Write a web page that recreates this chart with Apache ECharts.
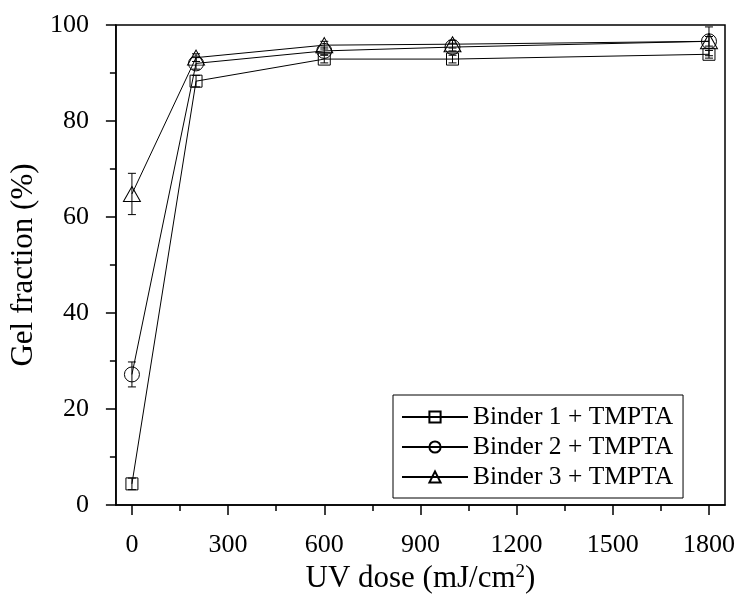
<!DOCTYPE html>
<html>
<head>
<meta charset="utf-8">
<script src="https://cdn.jsdelivr.net/npm/echarts@6/dist/echarts.min.js"></script>
<style>html,body{margin:0;padding:0;background:#fff}#c{width:746px;height:599px}</style>
</head>
<body>
<div id="c"></div>
<script>
const doses = [0, 200, 600, 1000, 1800];
const binder1 = [4.4, 88.3, 92.9, 92.9, 93.9];
const binder1Err = [1.2, 1.2, 0.8, 0.8, 0.8];
const binder2 = [27.2, 92.0, 94.6, 95.4, 96.6];
const binder2Err = [2.6, 1.2, 0.8, 0.8, 1.0];
const binder3 = [64.8, 93.2, 95.8, 96.0, 96.6];
const binder3Err = [4.3, 0.8, 0.8, 0.8, 3.0];
const seriesNames = ['Binder 1 + TMPTA', 'Binder 2 + TMPTA', 'Binder 3 + TMPTA'];
const xTicks = [0, 300, 600, 900, 1200, 1500, 1800];
const xMinorTicks = [150, 450, 750, 1050, 1350, 1650];

const FONT = 'Liberation Serif';
const chart = echarts.init(document.getElementById('c'), null, {renderer: 'canvas'});

function errData(vals, errs) {
  return doses.map((d, i) => [d, vals[i] - errs[i], vals[i] + errs[i]]);
}
function errSeries(vals, errs) {
  return {
    type: 'custom',
    xAxisIndex: 0, yAxisIndex: 0,
    data: errData(vals, errs),
    z: 5,
    silent: true,
    renderItem: function (params, api) {
      const x = api.value(0);
      const p1 = api.coord([x, api.value(2)]);
      const p2 = api.coord([x, api.value(1)]);
      const w = 4;
      const st = {stroke: '#000', lineWidth: 1, fill: null};
      return {type: 'group', children: [
        {type: 'line', shape: {x1: p1[0], y1: p1[1], x2: p2[0], y2: p2[1]}, style: st},
        {type: 'line', shape: {x1: p1[0] - w, y1: p1[1], x2: p1[0] + w, y2: p1[1]}, style: st},
        {type: 'line', shape: {x1: p2[0] - w, y1: p2[1], x2: p2[0] + w, y2: p2[1]}, style: st}
      ]};
    }
  };
}
function lineSeries(name, vals, symbol, size) {
  return {
    name: name,
    type: 'line',
    xAxisIndex: 0, yAxisIndex: 0,
    data: doses.map((d, i) => [d, vals[i]]),
    symbol: symbol,
    symbolSize: size,
    showAllSymbol: true,
    z: 3,
    lineStyle: {color: '#000', width: 1},
    itemStyle: {color: 'rgba(255,255,255,0)', borderColor: '#000', borderWidth: 1},
    emphasis: {disabled: true},
    animation: false
  };
}

chart.setOption({
  animation: false,
  backgroundColor: '#fff',
  grid: {left: 115, top: 25, right: 21, bottom: 94, show: true, borderColor: '#000', borderWidth: 1.5, backgroundColor: 'transparent'},
  legend: {
    orient: 'vertical',
    left: 393, top: 395,
    padding: [9, 10, 8, 8],
    itemGap: 4,
    itemWidth: 66,
    itemHeight: 14,
    borderColor: '#000',
    borderWidth: 1,
    backgroundColor: '#fff',
    textStyle: {fontFamily: FONT, fontSize: 25.5, color: '#000', lineHeight: 25},
    data: seriesNames
  },
  xAxis: [{
    type: 'value', min: -50, max: 1850,
    axisLine: {show: true, onZero: false, lineStyle: {color: '#000', width: 1.5}},
    axisTick: {show: true, inside: false, length: 10, customValues: xTicks, lineStyle: {color: '#000', width: 1.5}},
    axisLabel: {show: true, customValues: xTicks, margin: 27, fontFamily: FONT, fontSize: 26, color: '#000',
      formatter: function (v) { return String(v); }},
    splitLine: {show: false},
    name: 'UV dose (mJ/cm{sup|2})',
    nameLocation: 'middle',
    nameGap: 56,
    nameTextStyle: {fontFamily: FONT, fontSize: 31, color: '#000',
      rich: {sup: {fontFamily: FONT, fontSize: 19, color: '#000', verticalAlign: 'top', lineHeight: 19, padding: [0, 0, 12, 0]}}}
  }, {
    type: 'value', min: -50, max: 1850,
    position: 'bottom',
    axisLine: {show: false, onZero: false},
    axisTick: {show: true, inside: false, length: 6, customValues: xMinorTicks, lineStyle: {color: '#000', width: 1.5}},
    axisLabel: {show: false},
    splitLine: {show: false}
  }],
  yAxis: {
    type: 'value', min: 0, max: 100, interval: 20,
    axisLine: {show: true, onZero: false, lineStyle: {color: '#000', width: 1.5}},
    axisTick: {show: true, inside: false, length: 10, lineStyle: {color: '#000', width: 1.5}},
    minorTick: {show: true, splitNumber: 2, length: 6, lineStyle: {color: '#000', width: 1.5}},
    axisLabel: {margin: 27, fontFamily: FONT, fontSize: 26, color: '#000'},
    splitLine: {show: false},
    minorSplitLine: {show: false},
    name: 'Gel fraction (%)',
    nameLocation: 'middle',
    nameGap: 76,
    nameTextStyle: {fontFamily: FONT, fontSize: 31, color: '#000'}
  },
  series: [
    lineSeries(seriesNames[0], binder1, 'rect', 12),
    lineSeries(seriesNames[1], binder2, 'circle', 15),
    lineSeries(seriesNames[2], binder3, 'triangle', [17, 15]),
    errSeries(binder1, binder1Err),
    errSeries(binder2, binder2Err),
    errSeries(binder3, binder3Err)
  ]
});
</script>
</body>
</html>
